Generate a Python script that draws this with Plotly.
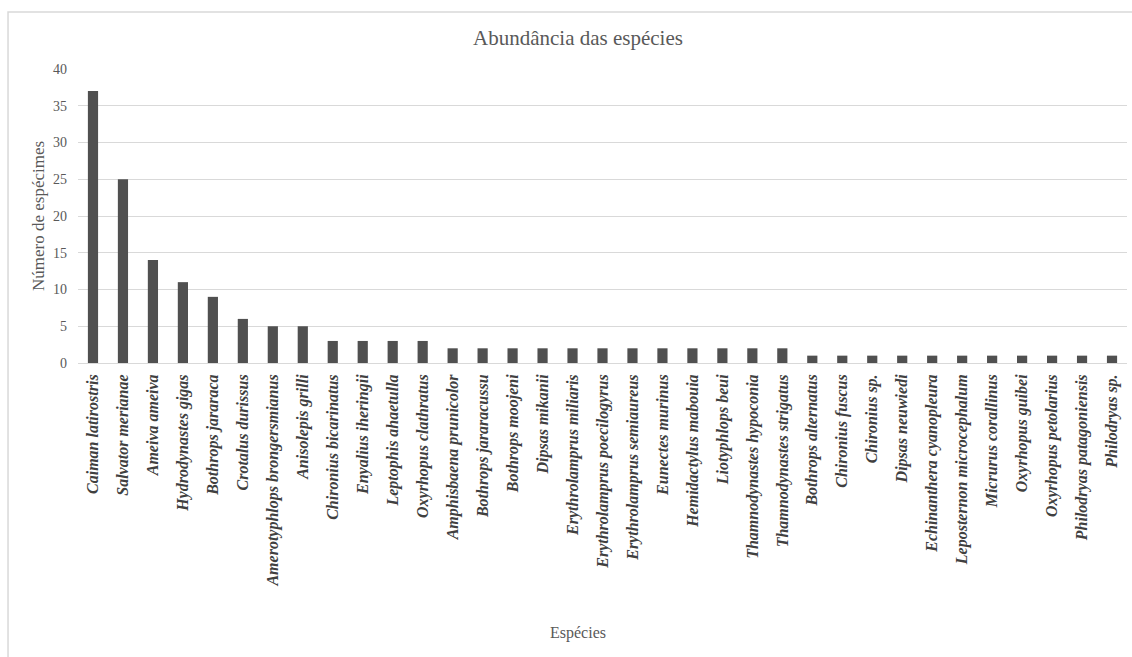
import plotly.graph_objects as go

# Species and number of specimens recorded
species = [
    "Caiman latirostris", "Salvator merianae", "Ameiva ameiva", "Hydrodynastes gigas",
    "Bothrops jararaca", "Crotalus durissus", "Amerotyphlops brongersmianus",
    "Anisolepis grilli", "Chironius bicarinatus", "Enyalius iheringii",
    "Leptophis ahaetulla", "Oxyrhopus clathratus", "Amphisbaena prunicolor",
    "Bothrops jararacussu", "Bothrops moojeni", "Dipsas mikanii",
    "Erythrolamprus miliaris", "Erythrolamprus poecilogyrus",
    "Erythrolamprus semiaureus", "Eunectes murinus", "Hemidactylus mabouia",
    "Liotyphlops beui", "Thamnodynastes hypoconia", "Thamnodynastes strigatus",
    "Bothrops alternatus", "Chironius fuscus", "Chironius sp.", "Dipsas neuwiedi",
    "Echinanthera cyanopleura", "Leposternon microcephalum", "Micrurus corallinus",
    "Oxyrhopus guibei", "Oxyrhopus petolarius", "Philodryas patagoniensis",
    "Philodryas sp.",
]
specimens = [37, 25, 14, 11, 9, 6, 5, 5, 3, 3, 3, 3, 2, 2, 2, 2, 2, 2, 2, 2, 2, 2,
             2, 2, 1, 1, 1, 1, 1, 1, 1, 1, 1, 1, 1]
y_ticks = [0, 5, 10, 15, 20, 25, 30, 35, 40]

chart_title = "Abundância das espécies"
x_title = "Espécies"
y_title = "Número de espécimes"

serif = "Liberation Serif"

fig = go.Figure(
    go.Bar(
        x=species,
        y=specimens,
        marker=dict(color="#505050", line=dict(width=0)),
    )
)

fig.update_layout(
    width=1132,
    height=657,
    margin=dict(l=78, r=5, t=69, b=294),
    paper_bgcolor="white",
    plot_bgcolor="white",
    bargap=0.66,
    showlegend=False,
    font=dict(family=serif, color="#595959"),
)

fig.update_xaxes(
    tickangle=-90,
    tickfont=dict(family=serif, size=16, color="#404040", weight="bold", style="italic"),
    showgrid=False,
    showline=True,
    linecolor="#d9d9d9",
    linewidth=1,
    ticks="",
    ticklabelstandoff=4,
)

fig.update_yaxes(
    range=[0, 40],
    tickvals=y_ticks,
    tickfont=dict(family=serif, size=14, color="#595959"),
    showgrid=True,
    gridcolor="#d9d9d9",
    gridwidth=1,
    zeroline=False,
    showline=False,
    ticks="",
    ticklabelstandoff=10,
)

# Chart title, axis titles and outer chart-area frame
fig.add_annotation(text=chart_title, xref="paper", yref="paper", x=0.4766, y=1.105,
                   xanchor="center", yanchor="middle", showarrow=False,
                   font=dict(family=serif, size=21, color="#595959"))
fig.add_annotation(text=x_title, xref="paper", yref="paper", x=0.4766, y=-0.918,
                   xanchor="center", yanchor="middle", showarrow=False,
                   font=dict(family=serif, size=16, color="#595959"))
fig.add_annotation(text=y_title, xref="paper", yref="paper", x=-0.0381, y=0.5,
                   xanchor="center", yanchor="middle", showarrow=False, textangle=-90,
                   font=dict(family=serif, size=17, color="#595959"))
fig.add_shape(type="rect", xref="paper", yref="paper",
              x0=-0.0667, x1=1.06, y0=-1.02, y1=1.194,
              line=dict(color="#d9d9d9", width=1.5), layer="below")

fig.write_html("out.html")
